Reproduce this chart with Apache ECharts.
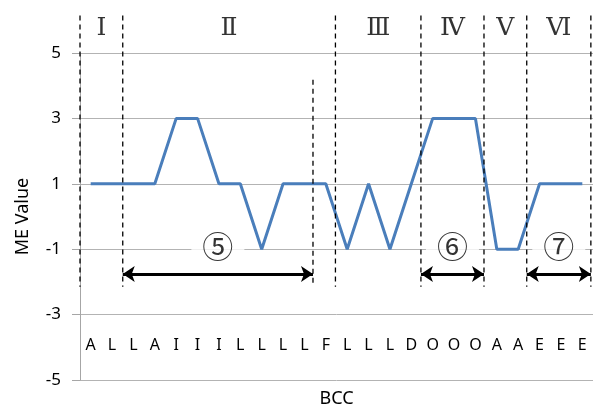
<!DOCTYPE html>
<html><head><meta charset="utf-8">
<script src="https://cdn.jsdelivr.net/npm/echarts@6/dist/echarts.min.js"></script>
<style>html,body{margin:0;padding:0;background:#fff}#c{width:594px;height:413px}</style>
</head><body><div id="c"></div>
<script>
const categories = ['A','L','L','A','I','I','I','L','L','L','L','F','L','L','L','D','O','O','O','A','A','E','E','E'];
const meValues = [1,1,1,1,3,3,1,1,-1,1,1,1,-1,1,-1,1,3,3,3,-1,-1,1,1,1];
const yTicks = [-5,-3,-1,1,3,5];
const zoneBounds = [-0.5, 1.5, 11.45, 15.45, 18.4, 20.4, 23.4];
const zoneNames = ['Ⅰ','Ⅱ','Ⅲ','Ⅳ','Ⅴ','Ⅵ'];
const spanStarts = [1.5, 15.45, 20.4];
const spanEnds = [10.4, 18.4, 23.4];
const spanNames = ['⑤','⑥','⑦'];

const DASH_TOP = 6.15, DASH_BOT = -2.15, SHORT_TOP = 4.18;
const ARROW_Y = -1.76, SPAN_LABEL_Y = -0.9, ZONE_LABEL_Y = 5.76;
const FONT = "'Noto Sans', sans-serif";
const CJK = "'Noto Sans CJK JP', sans-serif";

const dashStyle = {color:'#000', type:[5,4], width:1.3};
const dashSeries = zoneBounds.map(b => ({
  type:'line', xAxisIndex:1, symbol:'none', clip:false, silent:true,
  lineStyle: dashStyle, data:[[b, DASH_TOP],[b, DASH_BOT]]
}));
dashSeries.push({
  type:'line', xAxisIndex:1, symbol:'none', clip:false, silent:true,
  lineStyle: dashStyle, data:[[spanEnds[0], SHORT_TOP],[spanEnds[0], DASH_BOT]]
});

const chart = echarts.init(document.getElementById('c'));
chart.setOption({
  animation:false,
  grid:{left:80, right:1, top:53, bottom:30},
  xAxis:[{
    type:'category', data:categories, boundaryGap:true,
    axisLine:{show:false}, axisTick:{show:false},
    axisLabel:{inside:true, margin:27, color:'#000', fontSize:16, fontFamily:FONT},
    name:'BCC', nameLocation:'middle', nameGap:10,
    nameTextStyle:{color:'#000', fontSize:18, fontFamily:FONT}
  },{
    type:'value', min:-0.5, max:23.5, show:false
  }],
  yAxis:{
    type:'value', min:yTicks[0], max:yTicks[yTicks.length-1], interval:2,
    axisLine:{show:true, onZero:false, lineStyle:{color:'#a6a6a6'}},
    axisTick:{show:true, length:8, lineStyle:{color:'#a6a6a6'}},
    splitLine:{lineStyle:{color:'#b3b3b3', width:1}},
    axisLabel:{margin:19, color:'#000', fontSize:17, fontFamily:FONT},
    name:'ME Value', nameLocation:'middle', nameGap:48,
    nameTextStyle:{color:'#000', fontSize:18, fontFamily:FONT}
  },
  series:[
    {type:'line', data:meValues, symbol:'none', lineStyle:{color:'#4A7EBB', width:3}},
    ...dashSeries,
    {type:'lines', coordinateSystem:'cartesian2d', xAxisIndex:1, silent:true,
     symbol:['arrow','arrow'], symbolSize:[12,12],
     lineStyle:{color:'#000', width:3, opacity:1},
     data: spanStarts.map((s,i)=>({coords:[[s, ARROW_Y],[spanEnds[i], ARROW_Y]]}))},
    {type:'scatter', xAxisIndex:1, symbolSize:0, clip:false, silent:true, z:5,
     label:{show:true, position:'inside', formatter:p=>p.name, color:'#000',
            fontSize:31, fontFamily:CJK,
            backgroundColor:'#fff', padding:[0,11]},
     data: spanNames.map((n,i)=>({name:n, value:[(spanStarts[i]+spanEnds[i])/2, SPAN_LABEL_Y]}))},
    {type:'scatter', xAxisIndex:1, symbolSize:0, clip:false, silent:true, z:5,
     label:{show:true, position:'inside', formatter:p=>p.name, color:'#000',
            fontSize:25, fontFamily:"'DejaVu Serif', serif"},
     data: zoneNames.map((n,i)=>({name:n, value:[(zoneBounds[i]+zoneBounds[i+1])/2, ZONE_LABEL_Y]}))}
  ]
});
</script></body></html>
